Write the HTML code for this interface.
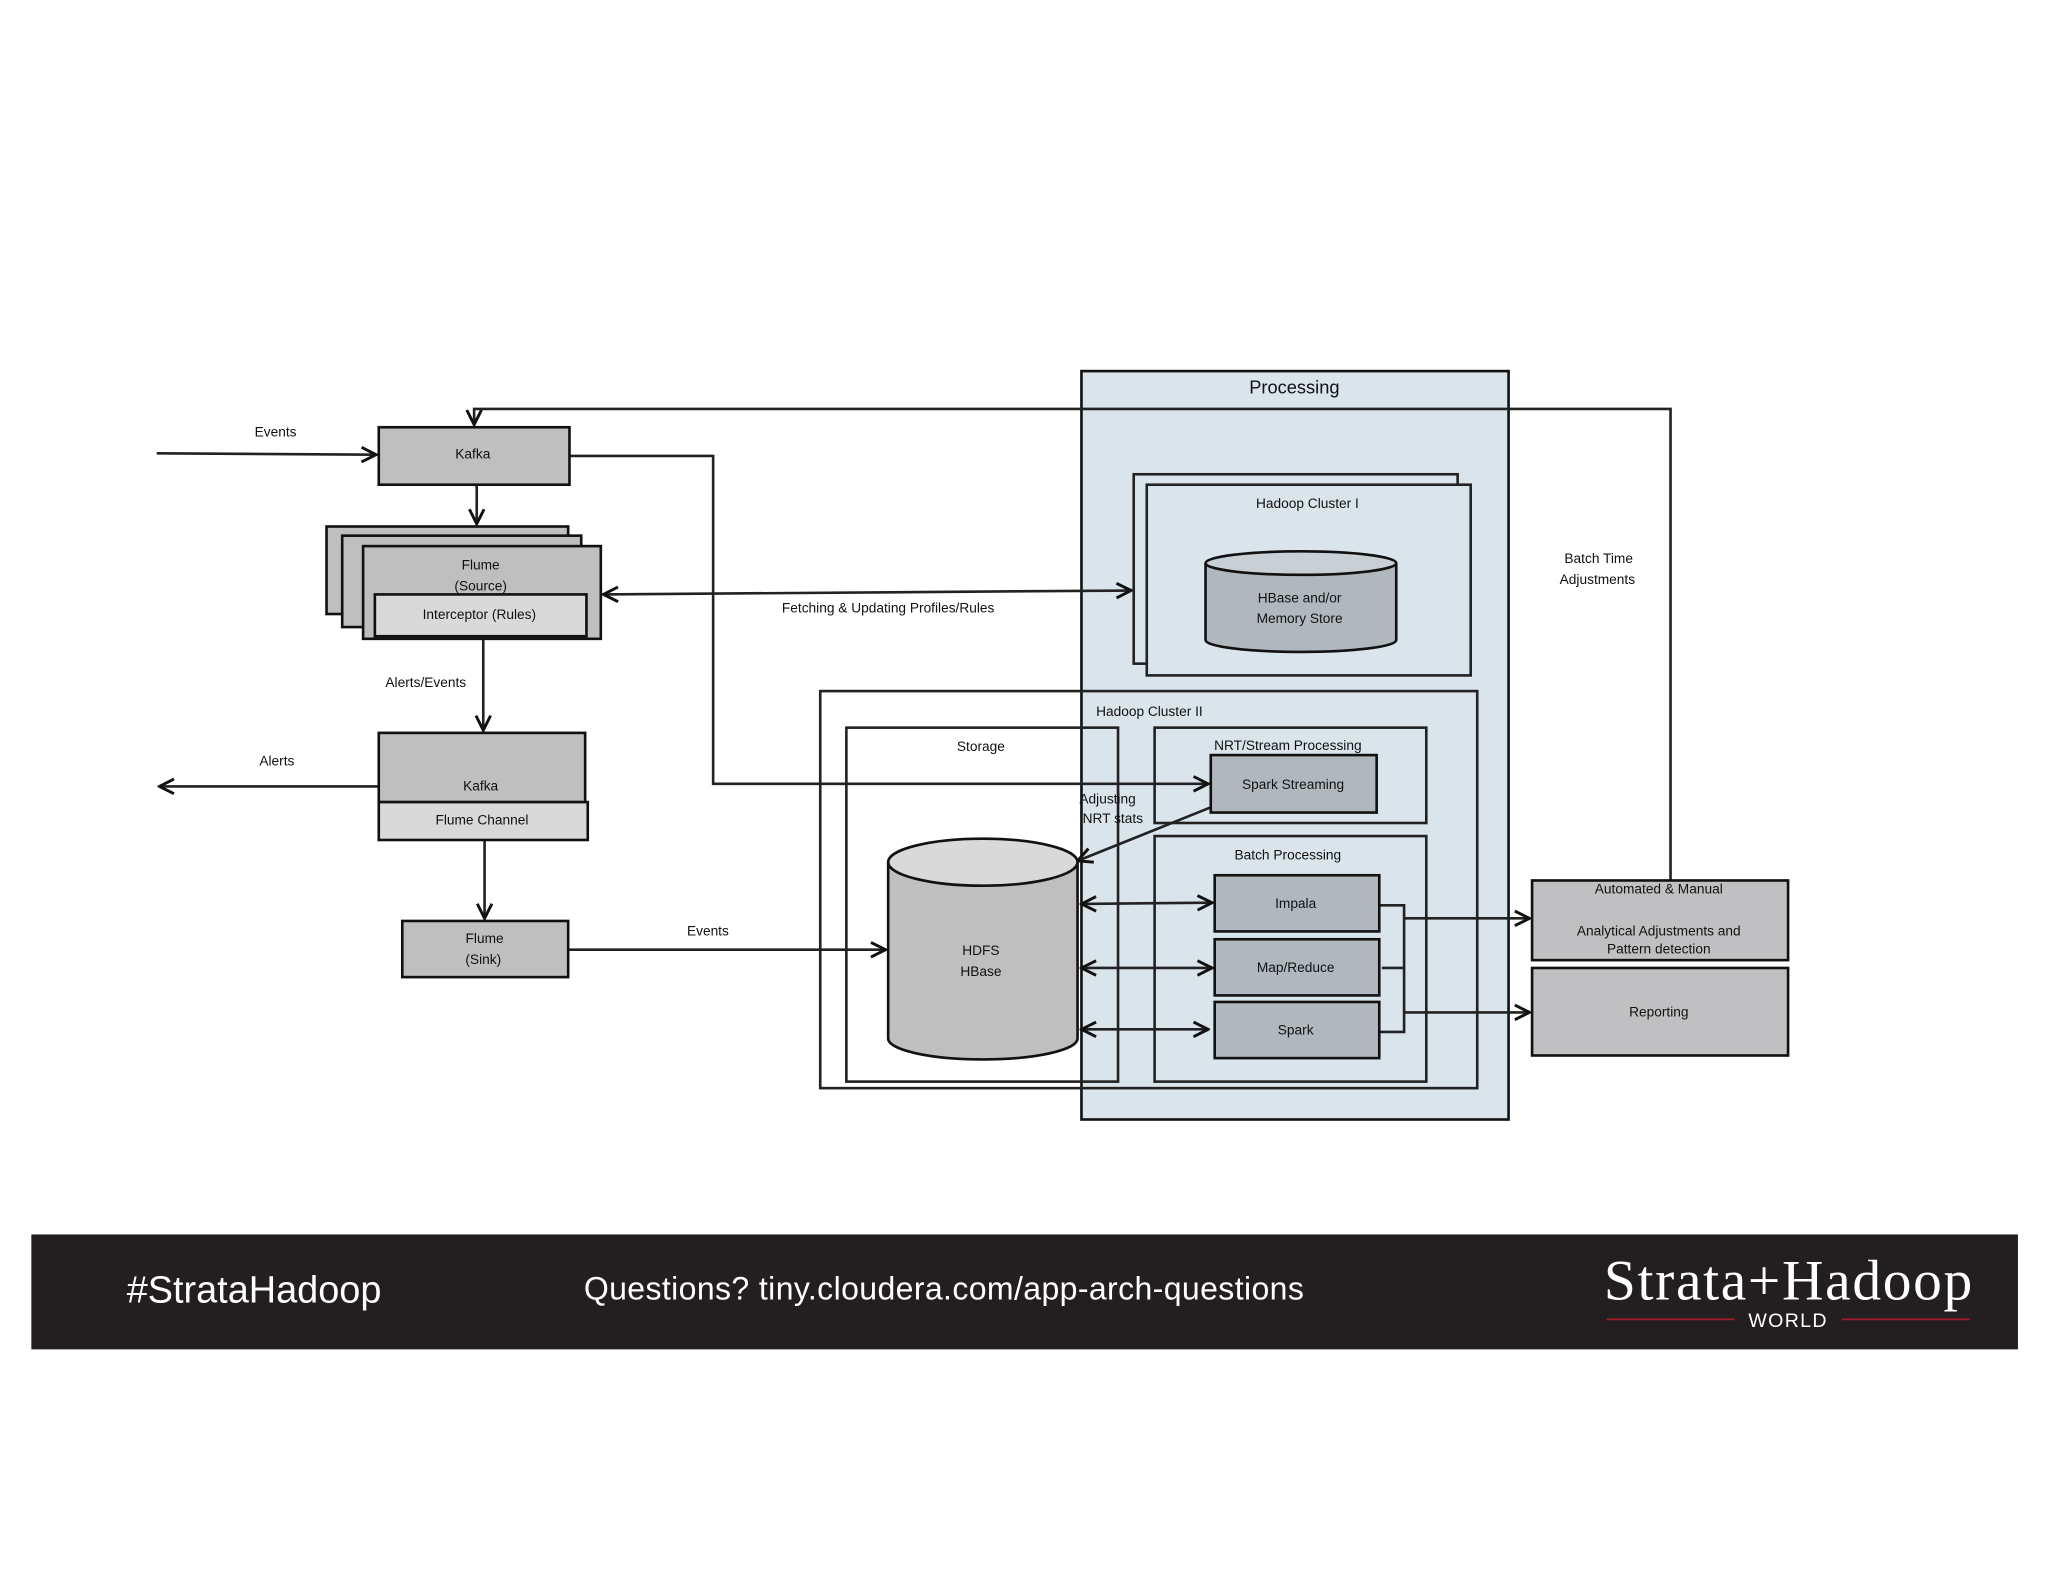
<!DOCTYPE html>
<html><head><meta charset="utf-8"><style>
html,body{margin:0;padding:0;background:#fff}
svg{display:block}
text{font-family:"Liberation Sans",sans-serif;fill:#111}
</style></head><body>
<svg width="2048" height="1582" viewBox="0 0 1568 1211" xmlns="http://www.w3.org/2000/svg">
<defs>
<marker id="a" viewBox="0 0 10 10" refX="9" refY="5" markerWidth="7" markerHeight="7" orient="auto-start-reverse"><path d="M1,1 L9,5 L1,9" fill="none" stroke="#111" stroke-width="1.6"/></marker>
</defs>
<rect width="1568" height="1211" fill="#fff"/>
<rect x="828" y="284" width="327" height="573" fill="#dae5eb" stroke="#111" stroke-width="2"/>
<text x="991" y="301" font-size="14" text-anchor="middle">Processing</text>
<g fill="none" stroke="#222" stroke-width="2">
<polyline points="1279,674 1279,313 363,313 363,325" marker-end="url(#a)"/>
<line x1="120" y1="347" x2="288" y2="348" marker-end="url(#a)"/>
<polyline points="436,349 546,349 546,600 925,600" marker-end="url(#a)"/>
<line x1="365" y1="371" x2="365" y2="401" marker-end="url(#a)"/>
<line x1="462" y1="455" x2="866" y2="452" marker-start="url(#a)" marker-end="url(#a)"/>
<line x1="370" y1="489" x2="370" y2="559" marker-end="url(#a)"/>
<line x1="290" y1="602" x2="122" y2="602" marker-end="url(#a)"/>
<line x1="371" y1="643" x2="371" y2="703" marker-end="url(#a)"/>
<line x1="435" y1="727" x2="678" y2="727" marker-end="url(#a)"/>
<rect x="628" y="529" width="503" height="304"/>
<rect x="648" y="557" width="208" height="271"/>
<rect x="884" y="557" width="208" height="73"/>
<rect x="884" y="640" width="208" height="188"/>
<rect x="868" y="363" width="248" height="145"/>
<rect x="878" y="371" width="248" height="146" fill="#dae5eb"/>
<line x1="927" y1="618" x2="825" y2="659" marker-end="url(#a)"/>
<line x1="828" y1="692" x2="928" y2="691" marker-start="url(#a)" marker-end="url(#a)"/>
<line x1="828" y1="741" x2="928" y2="741" marker-start="url(#a)" marker-end="url(#a)"/>
<line x1="828" y1="788" x2="925" y2="788" marker-start="url(#a)" marker-end="url(#a)"/>
<polyline points="1056,693 1075,693 1075,790 1056,790"/>
<polyline points="1058,741 1075,741"/>
<line x1="1075" y1="703" x2="1171" y2="703" marker-end="url(#a)"/>
<line x1="1075" y1="775" x2="1171" y2="775" marker-end="url(#a)"/>
</g>
<g stroke="#111" stroke-width="2">
<rect x="290" y="327" width="146" height="44" fill="#bfbfbf"/>
<rect x="250" y="403" width="185" height="67" fill="#bfbfbf"/>
<rect x="262" y="410" width="183" height="70" fill="#bfbfbf"/>
<rect x="278" y="418" width="182" height="71" fill="#bfbfbf"/>
<rect x="287" y="455" width="162" height="32" fill="#d9d9d9"/>
<rect x="290" y="561" width="158" height="53" fill="#bfbfbf"/>
<rect x="290" y="614" width="160" height="29" fill="#d9d9d9"/>
<rect x="308" y="705" width="127" height="43" fill="#bfbfbf"/>
<rect x="927" y="578" width="127" height="44" fill="#b0b8bd"/>
<rect x="930" y="670" width="126" height="43" fill="#b0b8bd"/>
<rect x="930" y="719" width="126" height="43" fill="#b0b8bd"/>
<rect x="930" y="767" width="126" height="43" fill="#b0b8bd"/>
<rect x="1173" y="674" width="196" height="61" fill="#c0bfc2"/>
<rect x="1173" y="741" width="196" height="67" fill="#c0bfc2"/>
<path d="M680,660 L680,795 A72.5,16 0 0 0 825,795 L825,660" fill="#bfbfbf"/>
<ellipse cx="752.5" cy="660" rx="72.5" ry="18" fill="#d9d9d9"/>
<path d="M923,431 L923,490 A73,9 0 0 0 1069,490 L1069,431" fill="#b0b8bd"/>
<ellipse cx="996" cy="431" rx="73" ry="9" fill="#c8d0d5"/>
</g>
<g font-size="10.5" text-anchor="middle">
<text x="211" y="334">Events</text>
<text x="362" y="351">Kafka</text>
<text x="368" y="436">Flume</text>
<text x="368" y="452">(Source)</text>
<text x="367" y="474">Interceptor  (Rules)</text>
<text x="326" y="526">Alerts/Events</text>
<text x="212" y="586">Alerts</text>
<text x="368" y="605">Kafka</text>
<text x="369" y="631">Flume  Channel</text>
<text x="371" y="722">Flume</text>
<text x="370" y="738">(Sink)</text>
<text x="542" y="716">Events</text>
<text x="680" y="469">Fetching  &amp;  Updating  Profiles/Rules</text>
<text x="1001" y="389">Hadoop  Cluster  I</text>
<text x="995" y="461">HBase  and/or</text>
<text x="995" y="477">Memory  Store</text>
<text x="880" y="548">Hadoop  Cluster  II</text>
<text x="751" y="575">Storage</text>
<text x="986" y="574">NRT/Stream  Processing</text>
<text x="990" y="604">Spark  Streaming</text>
<text x="848" y="615">Adjusting</text>
<text x="852" y="630">NRT  stats</text>
<text x="986" y="658">Batch  Processing</text>
<text x="992" y="695">Impala</text>
<text x="992" y="744">Map/Reduce</text>
<text x="992" y="792">Spark</text>
<text x="751" y="731">HDFS</text>
<text x="751" y="747">HBase</text>
<text x="1224" y="431">Batch  Time</text>
<text x="1223" y="447">Adjustments</text>
<text x="1270" y="684">Automated  &amp;  Manual</text>
<text x="1270" y="716">Analytical  Adjustments   and</text>
<text x="1270" y="730">Pattern  detection</text>
<text x="1270" y="778">Reporting</text>
</g>
<rect x="24" y="945" width="1521" height="88" fill="#231f20"/>
<text x="97" y="997" font-size="29" style="fill:#fff">#StrataHadoop</text>
<text x="447" y="995" font-size="24.5" style="fill:#fff;letter-spacing:0.3px">Questions? tiny.cloudera.com/app-arch-questions</text>
<text x="1369" y="995" font-size="44" text-anchor="middle" textLength="282" style="fill:#fff;font-family:'Liberation Serif',serif">Strata+Hadoop</text>
<line x1="1230" y1="1010" x2="1328" y2="1010" stroke="#9b1b2e" stroke-width="1.5"/>
<line x1="1410" y1="1010" x2="1508" y2="1010" stroke="#9b1b2e" stroke-width="1.5"/>
<text x="1369" y="1016" font-size="15" text-anchor="middle" style="fill:#fff;letter-spacing:1px">WORLD</text>
</svg>
</body></html>
